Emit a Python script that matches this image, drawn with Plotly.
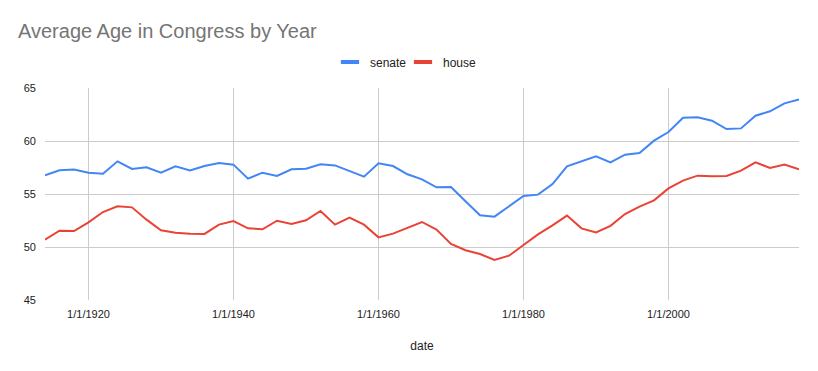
import plotly.graph_objects as go

years = [1914, 1916, 1918, 1920, 1922, 1924, 1926, 1928, 1930, 1932, 1934, 1936, 1938,
         1940, 1942, 1944, 1946, 1948, 1950, 1952, 1954, 1956, 1958, 1960, 1962, 1964,
         1966, 1968, 1970, 1972, 1974, 1976, 1978, 1980, 1982, 1984, 1986, 1988, 1990,
         1992, 1994, 1996, 1998, 2000, 2002, 2004, 2006, 2008, 2010, 2012, 2014, 2016, 2018]
dates = [f"{y}-01-01" for y in years]

senate = [56.76, 57.23, 57.30, 57.01, 56.92, 58.08, 57.36, 57.52, 57.01, 57.61, 57.23, 57.64, 57.92,
          57.77, 56.45, 57.01, 56.70, 57.33, 57.39, 57.80, 57.70, 57.20, 56.64, 57.89, 57.64, 56.86,
          56.38, 55.63, 55.66, 54.31, 52.99, 52.86, 53.84, 54.81, 54.94, 55.94, 57.61, 58.11, 58.55,
          57.99, 58.71, 58.87, 60.03, 60.85, 62.20, 62.23, 61.92, 61.13, 61.19, 62.39, 62.80, 63.55, 63.93]

house = [50.69, 51.54, 51.51, 52.33, 53.30, 53.84, 53.74, 52.58, 51.57, 51.35, 51.26, 51.23, 52.11,
         52.45, 51.76, 51.67, 52.48, 52.17, 52.52, 53.40, 52.11, 52.77, 52.11, 50.91, 51.26, 51.82,
         52.36, 51.64, 50.28, 49.69, 49.34, 48.77, 49.18, 50.19, 51.19, 52.04, 52.96, 51.76, 51.38,
         52.00, 53.11, 53.81, 54.40, 55.53, 56.26, 56.73, 56.67, 56.70, 57.20, 57.99, 57.45, 57.77, 57.33]

FONT = "Liberation Sans"
W, H = 818, 371
BLUE, RED = "#4285F4", "#EA4335"

fig = go.Figure()
fig.add_trace(go.Scatter(x=dates, y=senate, mode="lines", name="senate", showlegend=False,
                         line=dict(color=BLUE, width=2)))
fig.add_trace(go.Scatter(x=dates, y=house, mode="lines", name="house", showlegend=False,
                         line=dict(color=RED, width=2)))
# legend entries with short dash symbols
for name, col in [("senate", BLUE), ("house", RED)]:
    fig.add_trace(go.Scatter(x=[None], y=[None], mode="markers", name=name,
                             marker=dict(symbol="line-ew", size=13,
                                         line=dict(color=col, width=4))))

fig.update_layout(
    width=W, height=H,
    margin=dict(l=45, r=19, t=88, b=71, autoexpand=False),
    paper_bgcolor="white", plot_bgcolor="white",
    font=dict(family=FONT, size=12, color="#222222"),
    title=dict(text="Average Age in Congress by Year",
               font=dict(family=FONT, size=20, color="#757575"),
               xref="container", yref="container",
               x=18 / W, xanchor="left", y=1 - 31 / H, yanchor="middle"),
    legend=dict(orientation="h", x=330 / W, xref="container", xanchor="left",
                y=1 - 62 / H, yref="container", yanchor="middle",
                itemwidth=30, entrywidth=28, entrywidthmode="pixels",
                font=dict(family=FONT, size=12, color="#222222")),
    showlegend=True,
)

fig.update_xaxes(
    type="date", range=["1914-01-01", "2018-01-01"],
    tick0="1920-01-01", dtick="M240", tickformat="%-m/%-d/%Y",
    showgrid=True, gridcolor="#cccccc", gridwidth=1,
    zeroline=False, showline=False, ticks="", ticklabelstandoff=6,
    tickfont=dict(family=FONT, size=11, color="#222222"),
    title=dict(text="date", standoff=22, font=dict(family=FONT, size=12, color="#222222")),
)
fig.update_yaxes(
    range=[45, 65], dtick=5, tick0=45,
    showgrid=True, gridcolor="#cccccc", gridwidth=1,
    zeroline=False, showline=False, ticks="", ticklabelstandoff=8,
    tickfont=dict(family=FONT, size=11, color="#222222"),
)

fig.write_html("out.html")
